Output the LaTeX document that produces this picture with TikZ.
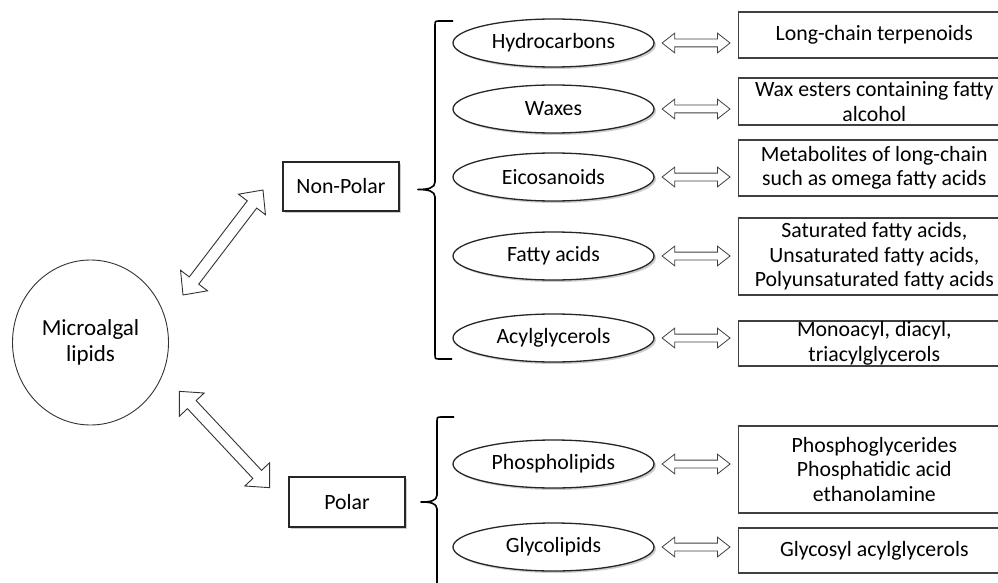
\documentclass[tikz,border=0pt]{standalone}
\usepackage{fontspec}
\setmainfont{Carlito}
\usepackage{tikz}
\usetikzlibrary{shapes.geometric, shapes.arrows, positioning, calc, shadows}

\begin{document}
\begin{tikzpicture}[
  x=1pt, y=-1pt,
  font=\fontsize{21.8}{24.5}\selectfont,
  root/.style={ellipse, draw=black!80, line width=0.9pt, minimum width=156pt,
               minimum height=165pt, align=center, inner sep=0pt,
               font=\fontsize{23}{26.5}\selectfont},
  group/.style={rectangle, draw=black!85, line width=1.3pt, fill=white,
                minimum width=116pt, minimum height=49pt,
                drop shadow={shadow xshift=2pt, shadow yshift=-2pt, fill=black!25, opacity=0.8}},
  cls/.style={ellipse, draw=black!85, line width=1.3pt, fill=white, inner sep=0pt,
              minimum width=201pt, minimum height=48pt,
              drop shadow={shadow xshift=2pt, shadow yshift=-2pt, fill=black!25, opacity=0.8}},
  desc/.style={rectangle, draw=black!75, line width=1.1pt, align=center, anchor=west,
               minimum width=272.5pt, inner xsep=2pt, inner ysep=0pt},
  link/.style={double arrow, draw=black!75, line width=0.8pt, fill=white, inner sep=3.5pt,
               minimum height=68pt, double arrow head extend=6pt, double arrow tip angle=76},
  bigarr/.style={double arrow, draw=black!80, line width=0.9pt, fill=white, inner sep=5.5pt,
                 minimum height=132pt, double arrow head extend=11pt, double arrow tip angle=86},
  brace/.style={line width=1.6pt, line join=round}
]
  \useasboundingbox (0,0) rectangle (998,583);

  % ── Root and the two groups ─────────────────────────────────────────────────
  \node[root] (lip) at (90.5,342.5) {Microalgal\\lipids};
  \node[group] (np)  at (341,186.5) {Non-Polar};
  \node[group, minimum height=50pt] (pol) at (347,502) {Polar};

  % ── Non-polar classes ───────────────────────────────────────────────────────
  \node[cls] (hc) at (553.5,43)  {Hydrocarbons};
  \node[cls] (wx) at (553.5,109) {Waxes};
  \node[cls] (ei) at (553.5,177) {Eicosanoids};
  \node[cls] (fa) at (553.5,256) {Fatty acids};
  \node[cls] (ag) at (553.5,338) {Acylglycerols};

  % ── Polar classes ───────────────────────────────────────────────────────────
  \node[cls] (ph) at (553.5,464) {Phospholipids};
  \node[cls] (gl) at (553.5,547) {Glycolipids};

  % ── Descriptions ────────────────────────────────────────────────────────────
  \node[desc, minimum height=46pt] (hcd) at (737.5,35)    {Long-chain terpenoids};
  \node[desc, minimum height=47pt] (wxd) at (737.5,101.5) {Wax esters containing fatty\\alcohol};
  \node[desc, minimum height=56pt] (eid) at (737.5,168)   {Metabolites of long-chain\\such as omega fatty acids};
  \node[desc, minimum height=77pt] (fad) at (737.5,256.5) {Saturated fatty acids,\\Unsaturated fatty acids,\\Polyunsaturated fatty acids};
  \node[desc, minimum height=45pt] (agd) at (737.5,343.5) {Monoacyl, diacyl,\\triacylglycerols};
  \node[desc, minimum height=87pt] (phd) at (737.5,469.5) {Phosphoglycerides\\Phosphatidic acid\\ethanolamine};
  \node[desc, minimum height=45pt] (gld) at (737.5,550.5) {Glycosyl acylglycerols};

  % ── Arrows ──────────────────────────────────────────────────────────────────
  \coordinate (npa) at (183,295);
  \coordinate (npb) at (263,190);
  \coordinate (pla) at (180,392);
  \coordinate (plb) at (269,487);
  \path (npa) -- node[bigarr, sloped] (npl) {} (npb);
  \path (pla) -- node[bigarr, sloped] (pll) {} (plb);

  \foreach \c in {hc, wx, ei, fa, ag, ph, gl}
    \path (\c.east) -- node[link] (\c l) {} (\c.east -| \c d.west);

  % ── Braces ──────────────────────────────────────────────────────────────────
  \draw[brace] (453,21) -- (440,21) .. controls (435,21) .. (435,26) -- (435,182)
    .. controls (435,188) and (428,189.5) .. (418,189.5)
    .. controls (428,189.5) and (435,191) .. (435,197) -- (435,354)
    .. controls (435,359) .. (440,359) -- (452,359);
  \draw[brace] (454,417) -- (442,417) .. controls (437,417) .. (437,422) -- (437,495)
    .. controls (437,501) and (430,502) .. (421,502)
    .. controls (430,502) and (437,503) .. (437,509) -- (437,590);
\end{tikzpicture}
\end{document}
